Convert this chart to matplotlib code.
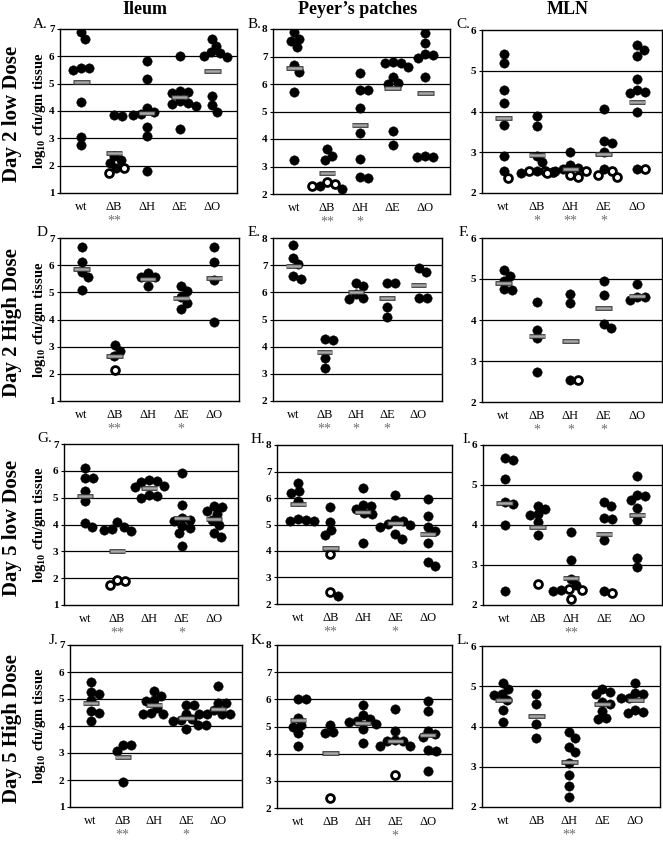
import matplotlib
matplotlib.use('Agg')
import matplotlib.pyplot as plt
import numpy as np

plt.rcParams['font.family'] = ['Liberation Serif', 'DejaVu Serif']
plt.rcParams['mathtext.default'] = 'regular'

# ---------------- data ----------------
categories = ['wt', '\u0394B', '\u0394H', '\u0394E', '\u0394O']
col_titles = ['Ileum', 'Peyer\u2019s patches', 'MLN']
row_titles = ['Day 2 low Dose', 'Day 2 High Dose', 'Day 5 low Dose', 'Day 5 High Dose']
panel_letters = ['A.', 'B.', 'C.', 'D', 'E.', 'F.', 'G.', 'H.', 'I.', 'J.', 'K.', 'L.']
col_ylims = [(1, 7), (2, 8), (2, 6)]

A_filled = [[6.88, 6.62, 5.57, 5.57, 5.50, 4.34, 3.05, 2.74],
            [3.82, 3.85, 2.35, 2.20, 2.10, 1.90],
            [5.82, 5.16, 4.10, 3.95, 3.90, 3.85, 3.40, 3.10, 1.80],
            [6.00, 4.75, 4.70, 4.65, 4.35, 4.30, 4.25, 4.20, 3.33],
            [6.65, 6.38, 6.15, 6.12, 6.00, 5.98, 4.55, 4.22, 3.98]]
A_open = [[], [1.72, 1.90], [], [], []]
A_mean = [5.05, 2.45, 3.93, 4.50, 5.48]
A_stars = ['', '**', '', '', '']

B_filled = [[7.90, 7.65, 7.55, 7.35, 6.70, 6.45, 5.70, 3.25],
            [3.65, 3.40, 3.25, 2.28, 2.20],
            [6.40, 5.80, 5.80, 5.12, 4.22, 3.28, 2.62, 2.60],
            [6.80, 6.78, 6.78, 6.62, 6.25, 6.02, 6.00, 4.28, 3.80],
            [7.85, 7.50, 7.08, 7.05, 6.95, 6.25, 3.35, 3.33, 3.37]]
B_open = [[], [2.28, 2.35, 2.42], [], [], []]
B_mean = [6.58, 2.75, 4.50, 5.85, 5.68]
B_stars = ['', '**', '*', '', '']

C_filled = [[5.42, 5.20, 4.52, 4.22, 3.68, 2.90, 2.55],
            [3.90, 3.65, 2.92, 2.75, 2.55, 2.50],
            [3.00, 2.68, 2.62, 2.58, 2.55],
            [4.05, 3.28, 3.22, 3.00, 2.58],
            [5.62, 5.50, 5.36, 4.80, 4.52, 4.48, 4.45, 3.98, 2.60]]
C_open = [[2.38], [2.55, 2.52, 2.55], [2.40, 2.50, 2.55, 2.45], [2.55, 2.45, 2.40], [2.60]]
C_mean = [3.84, 2.93, 2.60, 2.95, 4.24]
C_stars = ['', '*', '**', '*', '']

D_filled = [[6.68, 6.10, 5.75, 5.55, 5.08],
            [3.06, 2.84, 2.65],
            [5.70, 5.58, 5.55, 5.25],
            [5.25, 5.05, 4.82, 4.62, 4.38],
            [6.68, 6.12, 5.45, 3.90]]
D_open = [[], [2.13], [], [], []]
D_mean = [5.85, 2.65, 5.48, 4.80, 5.52]
D_stars = ['', '**', '', '*', '']

E_filled = [[7.75, 7.28, 7.05, 6.60, 6.50],
            [4.28, 4.26, 3.58, 3.22],
            [6.36, 6.25, 5.95, 5.80, 5.76],
            [6.36, 6.36, 5.45, 5.10],
            [6.88, 6.74, 5.78, 5.78]]
E_open = [[], [], [], [], []]
E_mean = [6.98, 3.82, 6.02, 5.78, 6.28]
E_stars = ['', '**', '*', '*', '']

F_filled = [[5.22, 5.08, 4.95, 4.75, 4.72],
            [4.43, 3.75, 3.55, 2.74],
            [4.63, 4.42, 2.53],
            [4.96, 4.60, 3.90, 3.81],
            [4.88, 4.55, 4.55, 4.48]]
F_open = [[], [], [2.53], [], []]
F_mean = [4.91, 3.60, 3.50, 4.30, 4.58]
F_stars = ['', '*', '*', '*', '']

G_filled = [[6.12, 5.73, 5.73, 5.23, 4.88, 4.04, 3.91],
            [4.08, 3.90, 3.85, 3.78, 3.76],
            [5.65, 5.62, 5.60, 5.45, 5.40, 5.10, 5.05, 5.00],
            [5.92, 4.73, 4.25, 4.18, 4.12, 3.95, 3.88, 3.67, 3.20],
            [4.68, 4.66, 4.52, 4.40, 4.15, 3.98, 3.68, 3.52]]
G_open = [[], [1.92, 1.90, 1.76], [], [], []]
G_mean = [5.08, 3.00, 5.35, 4.25, 4.20]
G_stars = ['', '**', '', '*', '']

H_filled = [[6.55, 6.25, 6.17, 5.90, 5.20, 5.18, 5.15, 5.12],
            [5.66, 5.10, 4.80, 4.62, 2.32],
            [6.36, 5.75, 5.70, 5.60, 5.45, 5.38, 4.32],
            [6.13, 5.16, 5.14, 5.02, 4.98, 4.90, 4.65, 4.46],
            [5.98, 5.31, 4.92, 4.75, 4.32, 3.58, 3.42]]
H_open = [[], [3.89, 2.44], [], [], []]
H_mean = [5.76, 4.11, 5.48, 5.06, 4.64]
H_stars = ['', '**', '', '*', '']

I_filled = [[5.67, 5.62, 5.16, 4.58, 4.52, 4.00, 2.35],
            [4.48, 4.40, 4.28, 4.26, 4.07, 3.76],
            [3.82, 3.12, 2.66, 2.50, 2.38, 2.35],
            [4.58, 4.47, 4.17, 4.16, 3.63, 2.35],
            [5.22, 4.74, 4.72, 4.62, 4.43, 4.12, 3.17, 2.95]]
I_open = [[], [2.52], [2.40, 2.38, 2.15], [2.30], []]
I_mean = [4.56, 3.96, 2.67, 3.77, 4.24]
I_stars = ['', '', '**', '', '']

J_filled = [[5.62, 5.25, 5.20, 4.95, 4.55, 4.50, 4.19],
            [3.30, 3.28, 3.09, 1.93],
            [5.28, 5.10, 4.95, 4.92, 4.68, 4.50, 4.46, 4.45],
            [4.76, 4.76, 4.45, 4.25, 4.22, 4.20, 4.05, 4.03, 3.90],
            [5.50, 4.86, 4.84, 4.60, 4.46, 4.45, 4.44, 4.43]]
J_open = [[], [], [], [], []]
J_mean = [4.87, 2.87, 4.76, 4.30, 4.64]
J_stars = ['', '**', '', '*', '']

K_filled = [[6.02, 6.02, 5.33, 5.05, 4.98, 4.76, 4.28],
            [5.06, 4.78, 4.76],
            [5.78, 5.42, 5.28, 5.20, 5.15, 5.08, 4.90, 4.38],
            [5.65, 4.85, 4.50, 4.48, 4.45, 4.30, 4.28],
            [5.95, 5.58, 4.85, 4.72, 4.62, 4.15, 4.10, 3.35]]
K_open = [[], [2.38], [], [3.22], []]
K_mean = [5.23, 4.02, 5.13, 4.47, 4.67]
K_stars = ['', '', '', '*', '']

L_filled = [[5.09, 4.93, 4.80, 4.78, 4.65, 4.42, 4.12],
            [4.80, 4.56, 4.07, 3.71],
            [3.86, 3.71, 3.50, 3.36, 3.10, 2.80, 2.53, 2.26],
            [4.94, 4.85, 4.80, 4.62, 4.55, 4.38, 4.20, 4.18],
            [5.07, 4.84, 4.80, 4.72, 4.70, 4.42, 4.35, 4.33]]
L_open = [[], [], [], [], []]
L_mean = [4.67, 4.25, 3.12, 4.56, 4.67]
L_stars = ['', '', '**', '', '']

panels = [
    (A_filled, A_open, A_mean, A_stars), (B_filled, B_open, B_mean, B_stars), (C_filled, C_open, C_mean, C_stars),
    (D_filled, D_open, D_mean, D_stars), (E_filled, E_open, E_mean, E_stars), (F_filled, F_open, F_mean, F_stars),
    (G_filled, G_open, G_mean, G_stars), (H_filled, H_open, H_mean, H_stars), (I_filled, I_open, I_mean, I_stars),
    (J_filled, J_open, J_mean, J_stars), (K_filled, K_open, K_mean, K_stars), (L_filled, L_open, L_mean, L_stars),
]

# ---------------- layout (pixels: left, top, right, bottom) ----------------
W, H = 663, 842
rects = [
    [(60, 29, 237, 193), (273, 29, 450, 194), (482, 30, 662, 193)],
    [(60, 238, 239, 401), (273, 238, 442, 401), (482, 238, 662, 402)],
    [(64, 444, 238, 605), (277, 445, 452, 604), (483, 445, 662, 605)],
    [(70, 645, 242, 807), (277, 645, 452, 808), (482, 646, 660, 807)],
]
XLIM = (0.35, 5.75)
DOT_D = 8.0  # px min distance between dot centres

fig = plt.figure(figsize=(W / 100, H / 100), dpi=100)


def swarm_offsets(vals, ppx, ppy):
    vals = np.asarray(vals, dtype=float)
    order = np.argsort(-vals, kind='stable')
    placed = []
    xs = np.zeros(len(vals))
    cands = [0]
    for k in range(1, 60):
        cands += [k * 0.5, -k * 0.5]
    for idx in order:
        y = vals[idx] * ppy
        for c in cands:
            ok = True
            for (px, py) in placed:
                if (px - c) ** 2 + (py - y) ** 2 < DOT_D ** 2:
                    ok = False
                    break
            if ok:
                xs[idx] = c / ppx
                placed.append((c, y))
                break
    return xs


for r in range(4):
    for c in range(3):
        l, t, rt, b = rects[r][c]
        ax = fig.add_axes([l / W, 1 - b / H, (rt - l) / W, (b - t) / H])
        filled, opened, means, stars = panels[r * 3 + c]
        y0, y1 = col_ylims[c]
        ax.set_xlim(*XLIM)
        ax.set_ylim(y0, y1)
        ppx = (rt - l) / (XLIM[1] - XLIM[0])
        ppy = (b - t) / (y1 - y0)
        for y in range(y0 + 1, y1):
            ax.axhline(y, color='black', lw=0.9, zorder=1)
        for i in range(5):
            vals = list(filled[i]) + list(opened[i])
            kinds = [0] * len(filled[i]) + [1] * len(opened[i])
            offs = swarm_offsets(vals, ppx, ppy)
            xs = np.array([i + 1 + o for o in offs])
            kinds = np.array(kinds)
            vals = np.array(vals)
            if (kinds == 0).any():
                ax.scatter(xs[kinds == 0], vals[kinds == 0], s=46, color='black',
                           edgecolors='black', linewidths=0.3, zorder=3)
            if (kinds == 1).any():
                ax.scatter(xs[kinds == 1], vals[kinds == 1], s=32, facecolor='white',
                           edgecolors='black', linewidths=2.0, zorder=3)
            ax.plot([i + 1 - 0.25, i + 1 + 0.25], [means[i], means[i]], color='#333333',
                    lw=3.4, solid_capstyle='butt', zorder=4)
            ax.plot([i + 1 - 0.23, i + 1 + 0.23], [means[i], means[i]], color='#a8a8a8',
                    lw=1.8, solid_capstyle='butt', zorder=5)
            if stars[i]:
                ax.annotate(stars[i], xy=(i + 1, 0), xycoords=ax.get_xaxis_transform(),
                            xytext=(0, -20), textcoords='offset points', ha='center',
                            va='center', fontsize=10, color='#707070', annotation_clip=False)
        ax.set_xticks(range(1, 6))
        ax.set_xticklabels(categories, fontsize=9)
        ax.set_yticks(range(y0, y1 + 1))
        ax.set_yticklabels([str(v) for v in range(y0, y1 + 1)], fontsize=8, fontweight='bold')
        ax.tick_params(axis='x', length=0, pad=6)
        ax.tick_params(axis='y', length=2, pad=2, width=0.8)
        for sp in ax.spines.values():
            sp.set_linewidth(1.0)
            sp.set_color('black')
        # panel letter
        fig.text((l - 12) / W, 1 - (t - 5) / H, panel_letters[r * 3 + c], ha='right',
                 va='center', fontsize=11)
        if c == 0:
            fig.text(39 / W, 1 - ((t + b) / 2) / H, 'log$_{10}$ cfu/gm tissue', rotation=90,
                     ha='center', va='center', fontsize=10.5, fontweight='bold')
            fig.text(12 / W, 1 - ((t + b) / 2 + 3) / H, row_titles[r], rotation=90,
                     ha='center', va='center', fontsize=15, fontweight='bold')
        if r == 0:
            fig.text(((l + rt) / 2 - 4) / W, 1 - 10 / H, col_titles[c], ha='center',
                     va='center', fontsize=13, fontweight='bold')

fig.savefig('out.png', dpi=100)
